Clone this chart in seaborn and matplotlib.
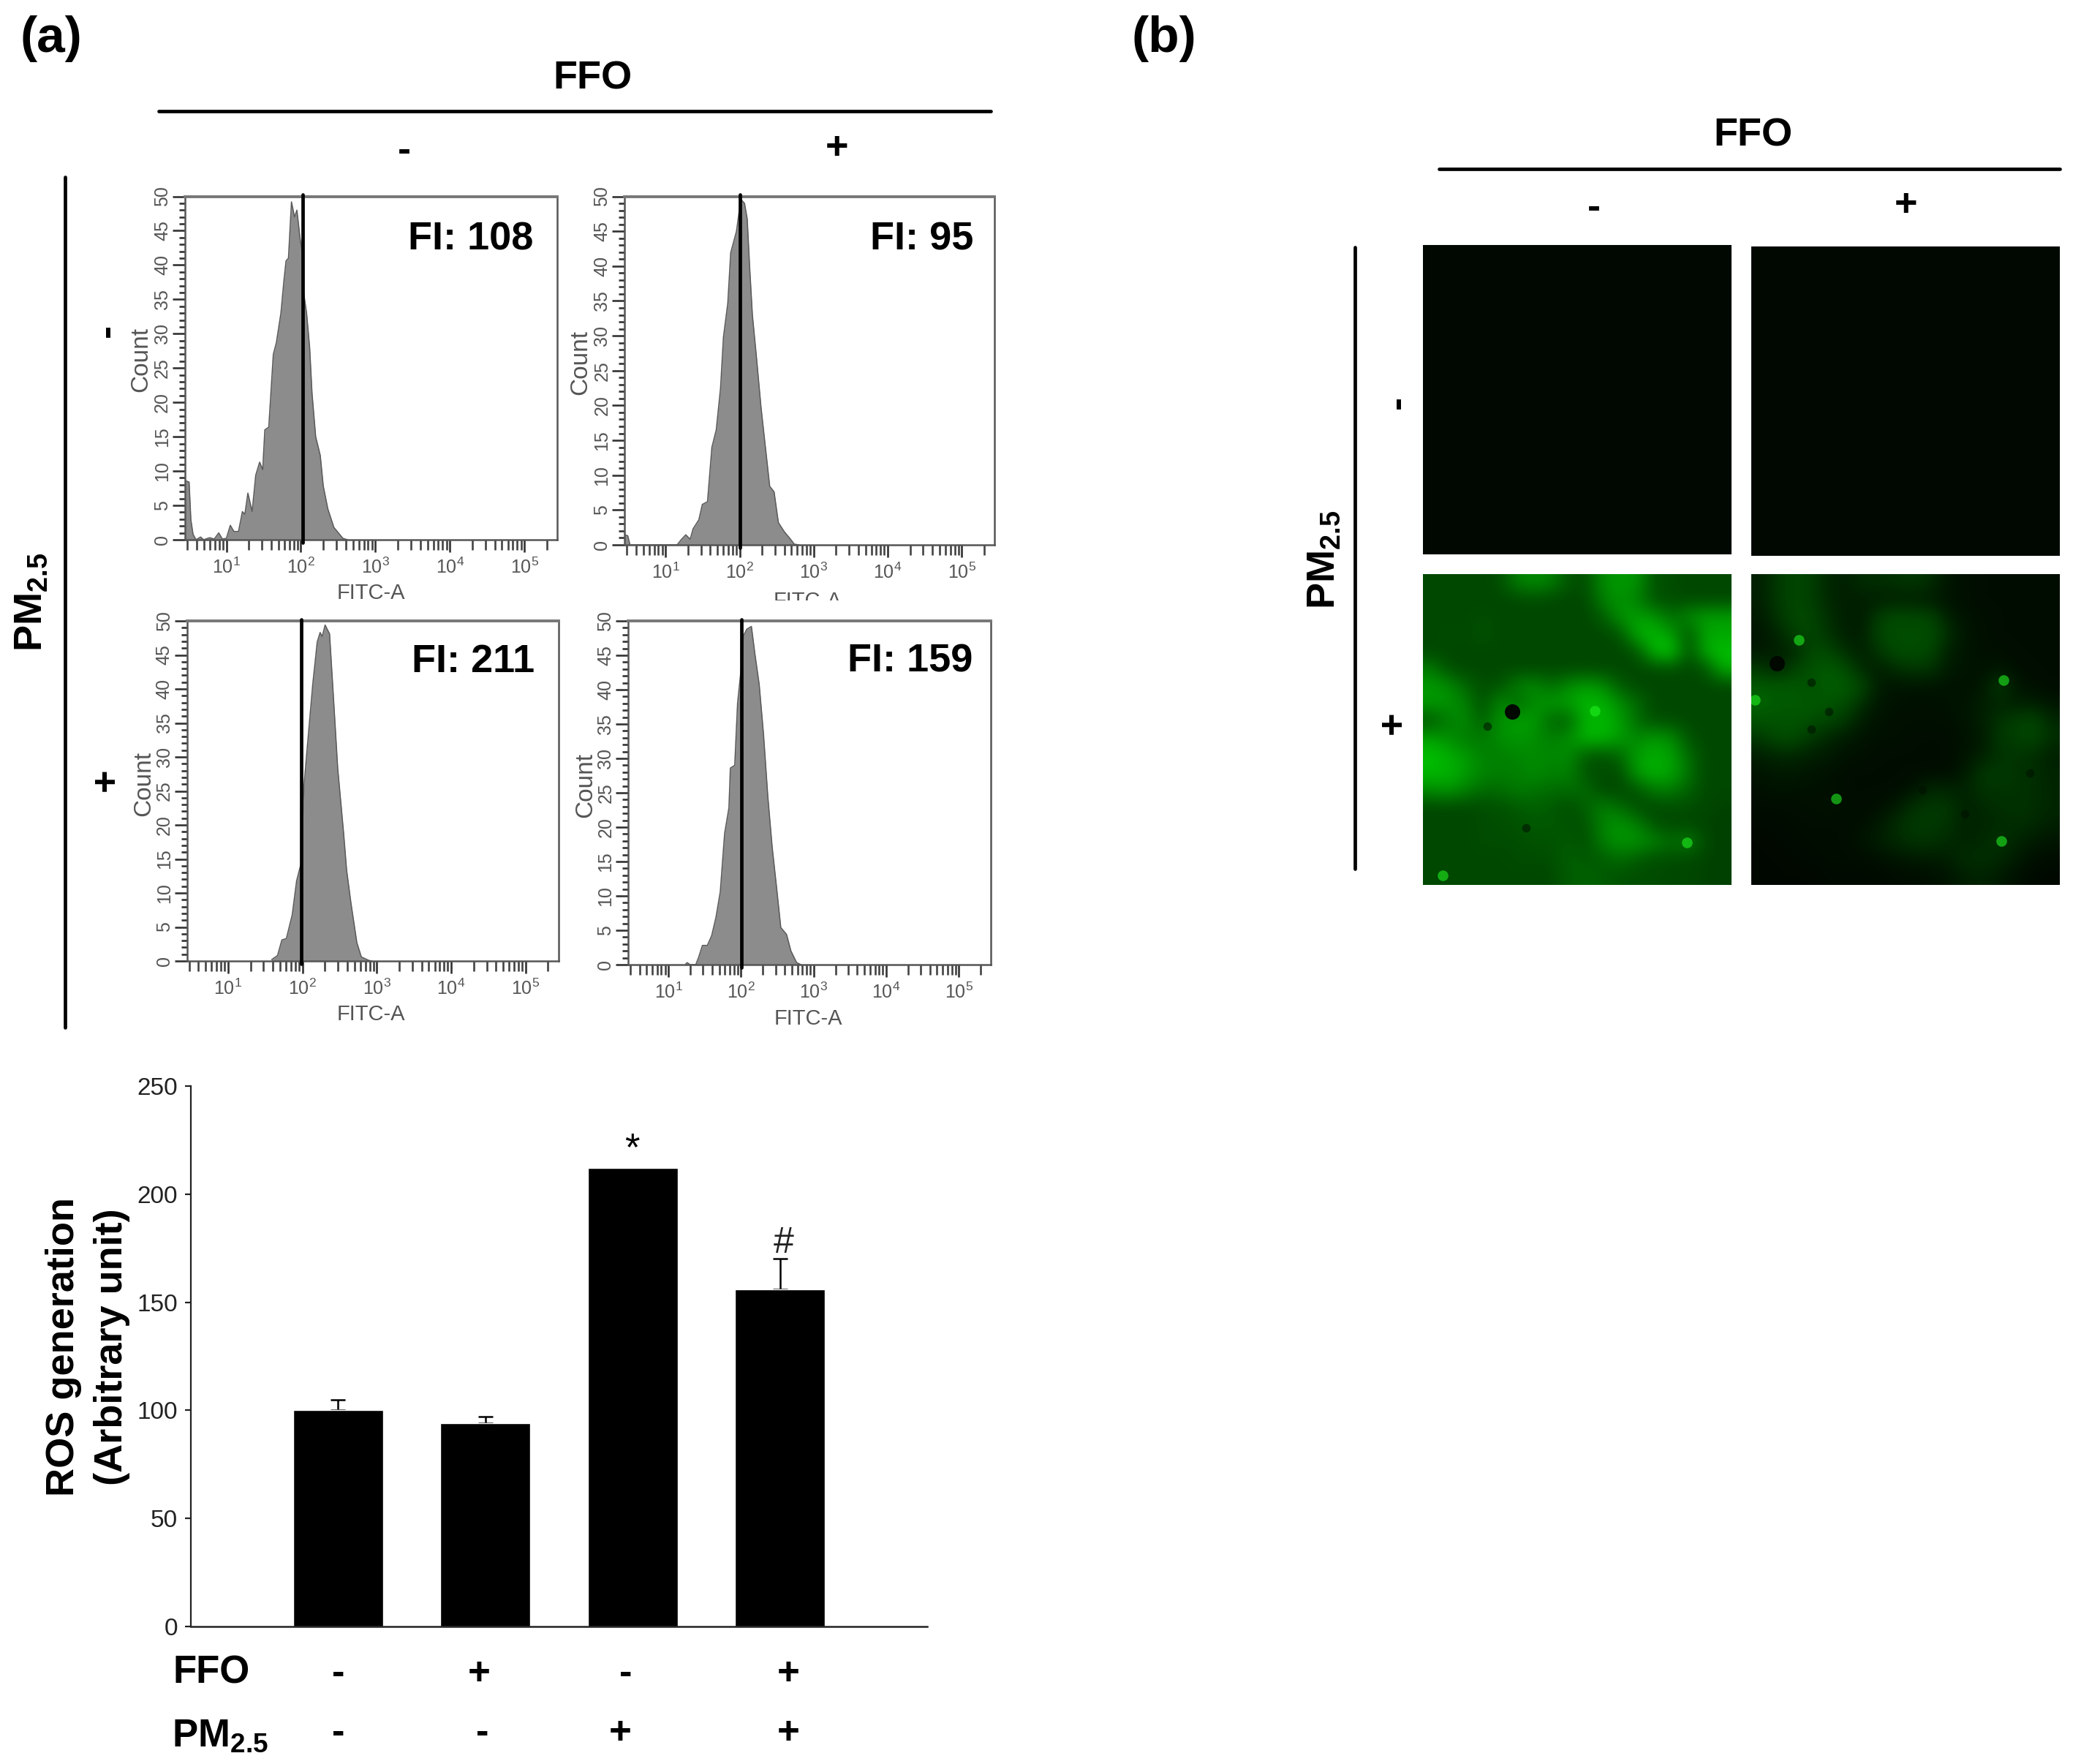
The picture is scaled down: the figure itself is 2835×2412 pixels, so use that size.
"""Flow cytometry histograms, ROS bars and fluorescence images, FFO / PM2.5."""
import matplotlib.pyplot as plt
import numpy as np
import seaborn as sns
from matplotlib.colors import LinearSegmentedColormap
from matplotlib.ticker import LogLocator, MultipleLocator, NullFormatter
from matplotlib.transforms import Bbox

# histogram outlines, log10(FITC-A) against count
log_fi_a = [.451, .5, .524, .553, .593, .654, .695, .776, .837, .898, .947, 1.0, 1.053, 1.102,
            1.163, 1.215, 1.248, 1.289, 1.346, 1.394, 1.447, 1.488, 1.516, 1.569, 1.63, 1.671,
            1.732, 1.772, 1.801, 1.833, 1.874, 1.915, 1.947, 1.988, 2.016, 2.037, 2.077, 2.118,
            2.15, 2.199, 2.26, 2.301, 2.362, 2.443, 2.565, 2.626]
count_a = [8.6, 8.4, 2.9, .8, 0, .4, 0, .3, .1, 1, .1, .2, 2.1, 1.2, 1.2, 4.1, 3.7, 6.8, 4.1,
           9.4, 11.3, 10.2, 16, 16.4, 27, 28.7, 33, 37.7, 40.6, 41, 49.2, 47, 48, 44, 42, 36,
           33, 28, 21.3, 15, 12.3, 7.8, 4.5, 1.8, .2, 0]
log_fi_b = [.441, .49, .52, 1.156, 1.215, 1.273, 1.332, 1.371, 1.449, 1.496, 1.566, 1.625, 1.684,
            1.742, 1.781, 1.84, 1.879, 1.957, 2.016, 2.066, 2.102, 2.133, 2.172, 2.23, 2.289,
            2.348, 2.406, 2.465, 2.523, 2.602, 2.68, 2.738, 2.8]
count_b = [1.5, 1.3, 0, 0, .8, 1.45, .8, 2.3, 3.6, 5.8, 6.2, 14, 16.5, 22.5, 29.8, 34.7, 41.9, 45,
           49.6, 49, 46.8, 40.3, 33, 26.6, 19.7, 14, 8.4, 7.6, 3.2, 1.9, .9, .1, 0]
log_fi_c = [1.585, 1.664, 1.723, 1.783, 1.862, 1.921, 1.98, 2.02, 2.079, 2.138, 2.198, 2.237,
            2.265, 2.304, 2.364, 2.415, 2.474, 2.553, 2.593, 2.652, 2.731, 2.791, 2.889, 2.929]
count_c = [.2, .8, 3.1, 3.3, 6.8, 11.8, 14.3, 25.8, 33.3, 40.7, 46.9, 48.3, 47.7, 49.4, 48.1, 39,
           28.3, 18.8, 13.4, 8.5, 2.7, .6, .1, 0]
log_fi_d = [1.238, 1.258, 1.298, 1.377, 1.417, 1.468, 1.536, 1.595, 1.655, 1.714, 1.774, 1.833,
            1.853, 1.913, 1.952, 2.0, 2.032, 2.079, 2.143, 2.19, 2.25, 2.31, 2.369, 2.429, 2.488,
            2.548, 2.627, 2.687, 2.766, 2.825]
count_d = [.1, .3, 0, 0, 1.1, 2.8, 2.8, 4.2, 6.9, 10.6, 19.1, 22.8, 28.6, 29, 38, 42.9, 47.8, 48.8,
           49.2, 45.3, 40.8, 33.5, 24.5, 17.1, 11.4, 5.4, 4.4, 2, .3, 0]
gates = [105, 100, 96, 102]
fi_labels = ["FI: 108", "FI: 95", "FI: 211", "FI: 159"]

# bar chart
groups = ["a", "b", "c", "d"]
ros = [100, 94, 212, 156]
ros_err = [5, 3, 0, 14]
ffo_signs = ["-", "+", "-", "+"]
pm_signs = ["-", "-", "+", "+"]

# green intensity of the two PM2.5 micrographs, read on an 18 x 18 grid
cells_left = [
    [.28, .28, .28, .28, .3, .5, .55, .5, .33, .3, .55, .6, .58, .32, .3, .28, .28, .28],
    [.28, .28, .28, .28, .28, .28, .3, .28, .28, .28, .5, .58, .5, .32, .3, .28, .28, .28],
    [.28, .28, .28, .3, .28, .28, .28, .28, .28, .28, .35, .58, .62, .58, .42, .55, .62, .62],
    [.28, .3, .28, .33, .28, .28, .28, .28, .28, .28, .28, .32, .68, .72, .6, .32, .65, .65],
    [.28, .28, .28, .28, .28, .28, .28, .28, .28, .28, .28, .28, .32, .72, .8, .3, .68, .75],
    [.48, .3, .28, .28, .28, .28, .28, .28, .28, .28, .28, .28, .28, .28, .3, .28, .32, .68],
    [.6, .55, .4, .3, .32, .5, .55, .42, .55, .62, .55, .35, .28, .28, .28, .28, .28, .28],
    [.6, .58, .5, .3, .55, .4, .55, .6, .62, .72, .7, .55, .42, .28, .28, .28, .28, .28],
    [.32, .5, .55, .35, .58, .62, .62, .38, .38, .7, .72, .62, .42, .3, .3, .28, .28, .28],
    [.62, .55, .48, .48, .55, .6, .55, .5, .55, .72, .72, .62, .52, .6, .55, .32, .28, .28],
    [.75, .68, .6, .5, .5, .52, .55, .52, .55, .35, .32, .4, .62, .68, .62, .42, .28, .28],
    [.72, .7, .62, .52, .5, .5, .55, .5, .52, .32, .3, .3, .62, .7, .65, .45, .28, .28],
    [.55, .6, .5, .42, .42, .48, .45, .42, .42, .42, .28, .28, .32, .48, .48, .38, .28, .28],
    [.28, .28, .28, .3, .32, .35, .38, .35, .3, .38, .5, .42, .3, .28, .3, .3, .28, .26],
    [.28, .28, .28, .3, .3, .32, .35, .35, .32, .32, .52, .58, .5, .32, .28, .28, .26, .25],
    [.28, .28, .28, .3, .3, .3, .32, .32, .35, .3, .5, .58, .58, .52, .42, .5, .28, .25],
    [.28, .28, .28, .28, .28, .3, .3, .3, .38, .35, .35, .42, .35, .3, .3, .28, .26, .25],
    [.28, .28, .28, .28, .28, .28, .28, .28, .36, .38, .36, .32, .3, .3, .28, .28, .26, .25],
]
cells_right = [
    [.12, .22, .28, .25, .15, .12, .18, .18, .2, .22, .18, .08, .06, .05, .05, .05, .05, .05],
    [.12, .22, .28, .25, .15, .12, .12, .12, .12, .12, .1, .07, .06, .05, .05, .05, .05, .05],
    [.1, .2, .28, .28, .18, .12, .1, .25, .3, .28, .28, .12, .07, .06, .05, .05, .05, .05],
    [.08, .14, .25, .28, .2, .12, .12, .28, .3, .3, .3, .18, .08, .06, .05, .05, .05, .05],
    [.1, .12, .15, .28, .28, .18, .12, .22, .3, .3, .28, .12, .08, .06, .06, .05, .05, .05],
    [.22, .14, .25, .32, .35, .3, .15, .12, .18, .22, .2, .1, .08, .07, .08, .06, .05, .05],
    [.35, .35, .35, .3, .38, .35, .28, .1, .08, .08, .08, .07, .07, .08, .25, .08, .06, .05],
    [.4, .35, .35, .35, .32, .3, .18, .08, .07, .06, .06, .07, .08, .12, .14, .12, .12, .08],
    [.32, .32, .33, .3, .28, .22, .1, .07, .06, .06, .06, .06, .08, .12, .2, .25, .28, .15],
    [.22, .3, .3, .22, .15, .1, .08, .06, .06, .05, .05, .05, .07, .1, .22, .25, .28, .18],
    [.12, .15, .15, .12, .1, .07, .06, .05, .05, .05, .05, .05, .08, .12, .2, .2, .18, .12],
    [.08, .1, .1, .08, .07, .05, .05, .05, .05, .05, .05, .05, .1, .22, .22, .2, .18, .14],
    [.06, .07, .07, .06, .06, .05, .05, .05, .05, .08, .16, .14, .14, .2, .2, .2, .18, .14],
    [.05, .05, .05, .06, .07, .06, .05, .06, .1, .2, .22, .22, .12, .16, .18, .2, .18, .15],
    [.04, .04, .05, .05, .05, .05, .06, .1, .18, .22, .22, .2, .12, .15, .16, .18, .16, .12],
    [.03, .04, .04, .05, .05, .05, .08, .12, .16, .2, .2, .16, .14, .16, .2, .14, .1, .08],
    [.03, .03, .04, .04, .05, .05, .05, .06, .08, .1, .1, .12, .18, .18, .16, .1, .06, .05],
    [.03, .03, .03, .03, .04, .04, .04, .04, .05, .05, .06, .08, .12, .14, .1, .06, .04, .03],
]
bright_left_x = [.557, .856, .064]
bright_left_y = [.44, .863, .969]
dark_left_x = [.288, .333, .208]
dark_left_y = [.443, .816, .489]
bright_right_x = [.011, .154, .817, .276, .811]
bright_right_y = [.404, .212, .341, .722, .859]
dark_right_x = [.083, .194, .25, .194, .904, .691, .554]
dark_right_y = [.286, .349, .443, .498, .639, .772, .694]

W, H = 2835, 2412
sns.set_theme(style="ticks")
plt.rcParams["font.family"] = ["Liberation Sans", "DejaVu Sans"]
plt.rcParams["mathtext.fontset"] = "custom"
plt.rcParams["mathtext.rm"] = "Liberation Sans"
plt.rcParams["mathtext.bf"] = "Liberation Sans:bold"
plt.rcParams["mathtext.default"] = "regular"
fig = plt.figure(figsize=(W / 100, H / 100), dpi=100, facecolor="white")


def px_axes(left, top, right, bottom):
    return fig.add_axes([left / W, 1 - bottom / H, (right - left) / W, (bottom - top) / H])


def put(x, y, s, size=39, weight="bold", color="black", rotation=0, ha="center", **kw):
    return fig.text(x / W, 1 - y / H, s, fontsize=size, fontweight=weight, color=color,
                    rotation=rotation, ha=ha, va="center", **kw)


def rule(x0, y0, x1, y1):
    fig.add_artist(plt.Line2D([x0 / W, x1 / W], [1 - y0 / H, 1 - y1 / H], color="black", lw=3.4))


def histogram(rect, log_fi, count, gate, label, label_right, label_y, count_pos):
    ax = px_axes(*rect)
    fi = 10 ** np.array(log_fi)
    ax.fill_between(fi, count, 0, color="#8c8c8c", lw=0)
    sns.lineplot(x=fi, y=count, sort=False, estimator=None, errorbar=None,
                 color="#5a5a5a", lw=1.1, ax=ax)
    ax.axvline(gate, ymin=-0.008, ymax=1.005, color="black", lw=3.4, clip_on=False, zorder=5)
    ax.set_xscale("log")
    ax.set_xlim(10 ** 0.445, 10 ** 5.44)
    ax.set_ylim(0, 50)
    ax.set_xticks([10, 100, 1000, 10000, 100000],
                  labels=["$10^{1}$", "$10^{2}$", "$10^{3}$", "$10^{4}$", "$10^{5}$"])
    ax.xaxis.set_minor_locator(LogLocator(base=10, subs=range(2, 10), numticks=12))
    ax.xaxis.set_minor_formatter(NullFormatter())
    ax.yaxis.set_major_locator(MultipleLocator(5))
    ax.yaxis.set_minor_locator(MultipleLocator(1))
    ax.tick_params(axis="x", which="major", length=12.5, width=1.9, color="#333333",
                   labelcolor="#555555", labelsize=18, pad=5)
    ax.tick_params(axis="x", which="minor", length=10, width=1.9, color="#444444")
    ax.tick_params(axis="y", which="major", length=12.5, width=1.9, color="#333333",
                   labelcolor="#555555", labelsize=18, pad=1, labelrotation=90)
    ax.tick_params(axis="y", which="minor", length=5.5, width=1.9, color="#333333")
    for tick in ax.get_yticklabels():
        tick.set_va("center")
    ax.set_xlabel("")
    ax.set_ylabel("")
    for spine in ax.spines.values():
        spine.set_color("#555555")
        spine.set_linewidth(1.8)
    ax.spines["top"].set_color("#777777")
    ax.spines["top"].set_linewidth(2.8)
    put(label_right, label_y, label, ha="right")
    put(count_pos[0], count_pos[1], "Count", size=24, weight="normal", color="#555555", rotation=90)
    return ax


histogram((253, 268.5, 762, 738), log_fi_a, count_a, gates[0], fi_labels[0], 729, 327, (193, 491))
histogram((854, 268.5, 1360, 745), log_fi_b, count_b, gates[1], fi_labels[1], 1331, 327, (794, 495))
histogram((255.5, 849, 763.6, 1314), log_fi_c, count_c, gates[2], fi_labels[2], 731, 905, (197, 1072))
histogram((859, 849, 1355, 1319), log_fi_d, count_d, gates[3], fi_labels[3], 1330, 905, (801, 1074))

# x titles of the four histograms; the second one is cut by its crop in the figure
put(507, 811, "FITC-A", size=21, weight="normal", color="#555555")
cut = put(1104, 822, "FITC-A", size=21, weight="normal", color="#555555")
cut.set_clip_box(Bbox([[1000, H - 821], [1220, H - 790]]))
cut.set_clip_on(True)
put(507, 1387, "FITC-A", size=21, weight="normal", color="#555555")
put(1105, 1393, "FITC-A", size=21, weight="normal", color="#555555")

# panel (a) headers
put(70, 53, "(a)", size=50)
put(810, 108, "FFO")
rule(217, 152, 1355, 152)
put(553, 207, "-")
put(1145, 203, "+")
rule(89, 242, 89, 1405)
put(43, 823, r"$\mathbf{PM_{2.5}}$", rotation=90)
put(147, 452, "-", rotation=90)
put(146, 1066, "+", rotation=90)

# bars
ax = px_axes(261, 1485, 1268, 2224)
sns.barplot(x=groups, y=ros, color="black", saturation=1, width=0.61, errorbar=None, ax=ax)
for i, (value, err) in enumerate(zip(ros, ros_err)):
    if err > 0:
        ax.errorbar(i, value, yerr=[[0], [err]], fmt="none", ecolor="black",
                    elinewidth=1.8, capsize=7, capthick=1.8, zorder=0.5)
ax.set_xlim(-1, 4)
ax.set_ylim(0, 250)
ax.set_yticks(range(0, 251, 50))
ax.set_xticks([])
ax.tick_params(axis="y", length=6, width=1.6, color="#222222", labelcolor="#222222",
               labelsize=24, pad=7)
sns.despine(ax=ax)
ax.spines["left"].set_linewidth(1.6)
ax.spines["bottom"].set_linewidth(1.8)
ax.spines["left"].set_color("#222222")
ax.spines["bottom"].set_color("#222222")
put(864, 1572, "*", size=38, weight="normal")
put(1072, 1700, "#", size=36, weight="normal", color="#222222")
put(87, 1842, "ROS generation", rotation=90)
put(153, 1842, "(Arbitrary unit)", size=39, rotation=90)
put(289, 2287, "FFO", size=38)
put(301, 2374, r"$\mathbf{PM_{2.5}}$", size=38)
for x, sign in zip([463, 655, 856, 1078], ffo_signs):
    put(x, 2289, sign, size=38)
for x, sign in zip([463, 660, 848, 1078], pm_signs):
    put(x, 2370, sign, size=38)

# panel (b)
put(1592, 53, "(b)", size=50)
put(2397, 186, "FFO")
rule(1968, 231, 2817, 231)
put(2180, 285, "-")
put(2607, 281, "+")
rule(1853, 338, 1853, 1188)
put(1811, 765, r"$\mathbf{PM_{2.5}}$", rotation=90)
put(1912, 550, "-", rotation=90)
put(1906, 988, "+", rotation=90)

green = LinearSegmentedColormap.from_list("green", ["black", "#00ff00"])
for rect in [(1946, 335, 2368, 758), (2395, 337, 2817, 760)]:
    ax = px_axes(*rect)
    ax.set_facecolor("#010802")
    ax.set_xticks([])
    ax.set_yticks([])
    sns.despine(ax=ax, left=True, bottom=True)

panels = [
    ((1946, 785, 2368, 1210), cells_left, bright_left_x, bright_left_y, dark_left_x, dark_left_y),
    ((2395, 785, 2817, 1210), cells_right, bright_right_x, bright_right_y, dark_right_x, dark_right_y),
]
for rect, cells, bx, by, dx, dy in panels:
    ax = px_axes(*rect)
    ax.imshow(cells, cmap=green, vmin=0, vmax=1, extent=(0, 1, 1, 0), aspect="auto",
              interpolation="bicubic")
    # one large hole in each image, the others are small and fainter
    sns.scatterplot(x=dx[:1], y=dy[:1], color="#000800", s=230, linewidth=0, ax=ax)
    sns.scatterplot(x=dx[1:], y=dy[1:], color="#001000", s=70, linewidth=0, alpha=0.55, ax=ax)
    sns.scatterplot(x=bx, y=by, color="#20f020", s=110, linewidth=0, alpha=0.6, ax=ax)
    ax.set_xlim(0, 1)
    ax.set_ylim(1, 0)
    ax.set_xticks([])
    ax.set_yticks([])
    sns.despine(ax=ax, left=True, bottom=True)

fig.savefig("out.png", dpi=100, facecolor="white")
